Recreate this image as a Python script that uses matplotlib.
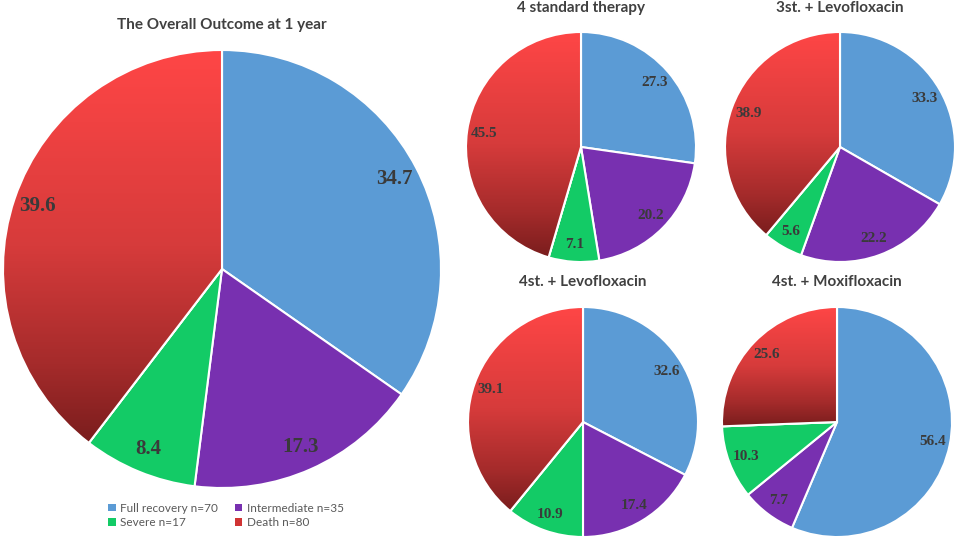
import numpy as np
import matplotlib
matplotlib.use("Agg")
import matplotlib.pyplot as plt
from matplotlib.colors import LinearSegmentedColormap
from matplotlib.patches import Patch, Wedge

# outcome categories and patient counts
categories = ["Full recovery", "Intermediate", "Severe", "Death"]
counts = [70, 35, 17, 80]

# percentages per group (blue, purple, green, red)
overall = [34.7, 17.3, 8.4, 39.6]
std4 = [27.3, 20.2, 7.1, 45.5]
st3_levo = [33.3, 22.2, 5.6, 38.9]
st4_levo = [32.6, 17.4, 10.9, 39.1]
st4_moxi = [56.4, 7.7, 10.3, 25.6]

colors = ["#5B9BD5", "#7830B0", "#13CB66", "#FF4545"]
red_cmap = LinearSegmentedColormap.from_list(
    "death", [(0.0, "#7A1D1D"), (0.2, "#A52B2B"), (0.5, "#D63B3B"), (1.0, "#FF4646")])

W, H = 957, 540
fig = plt.figure(figsize=(W / 100, H / 100), dpi=100)
label_color = "#3A3A3A"
title_color = "#404040"


def draw_pie(cx, cy, r, values, title, title_y, fsize, tsize, dist):
    # axes placed in pixel coords so the pie lands where the original does
    ax = fig.add_axes([(cx - r) / W, 1 - (cy + r) / H, 2 * r / W, 2 * r / H])
    wedges, texts = ax.pie(values, labels=[f"{v:.1f}" for v in values], colors=colors,
                           startangle=90, counterclock=False, labeldistance=dist,
                           wedgeprops=dict(edgecolor="white", linewidth=1.5),
                           textprops=dict(fontsize=fsize, fontweight="bold",
                                          family="Liberation Serif", color=label_color))
    for t in texts:
        t.set_ha("center")
        t.set_va("center")
        t.set_zorder(5)

    # vertical gradient on the death slice
    red = wedges[3]
    ext = red.get_path().get_extents()
    grad = np.linspace(0, 1, 256).reshape(-1, 1)
    im = ax.imshow(grad, cmap=red_cmap, origin="lower", aspect="auto",
                   extent=[ext.x0, ext.x1, ext.y0, ext.y1], zorder=1.1)
    im.set_clip_path(red)
    ax.add_patch(Wedge(red.center, red.r, red.theta1, red.theta2, facecolor="none",
                       edgecolor="white", linewidth=1.5, zorder=1.2))

    ax.set_xlim(-1.0, 1.0)
    ax.set_ylim(-1.0, 1.0)
    ax.axis("off")
    fig.text(cx / W, 1 - title_y / H, title, ha="center", va="center", fontsize=tsize,
             fontweight="bold", family="Lato", color=title_color)
    return ax


draw_pie(222, 269, 219, overall, "The Overall Outcome at 1 year", 25, 15, 11, 0.89)
draw_pie(581, 147, 115, std4, "4 standard therapy", 8, 11, 11, 0.85)
draw_pie(840, 147, 115, st3_levo, "3st. + Levofloxacin", 8, 11, 11, 0.85)
draw_pie(583, 422, 115, st4_levo, "4st. + Levofloxacin", 282, 11, 11, 0.85)
draw_pie(837, 422, 115, st4_moxi, "4st. + Moxifloxacin", 282, 11, 11, 0.85)

legend_colors = colors[:3] + ["#D03434"]
handles = [Patch(facecolor=c, edgecolor="none", label=f"{cat} n={n}")
           for c, cat, n in zip(legend_colors, categories, counts)]
order = [0, 2, 1, 3]
fig.legend([handles[i] for i in order], [handles[i].get_label() for i in order],
           loc="center", bbox_to_anchor=(226 / W, 1 - 515.5 / H), ncol=2, frameon=False,
           prop=dict(family="Lato", size=8.5), labelcolor="#595959",
           handlelength=0.6, handleheight=0.6, handletextpad=0.4,
           columnspacing=1.4, labelspacing=0.3)

fig.savefig("out.png", dpi=100)
